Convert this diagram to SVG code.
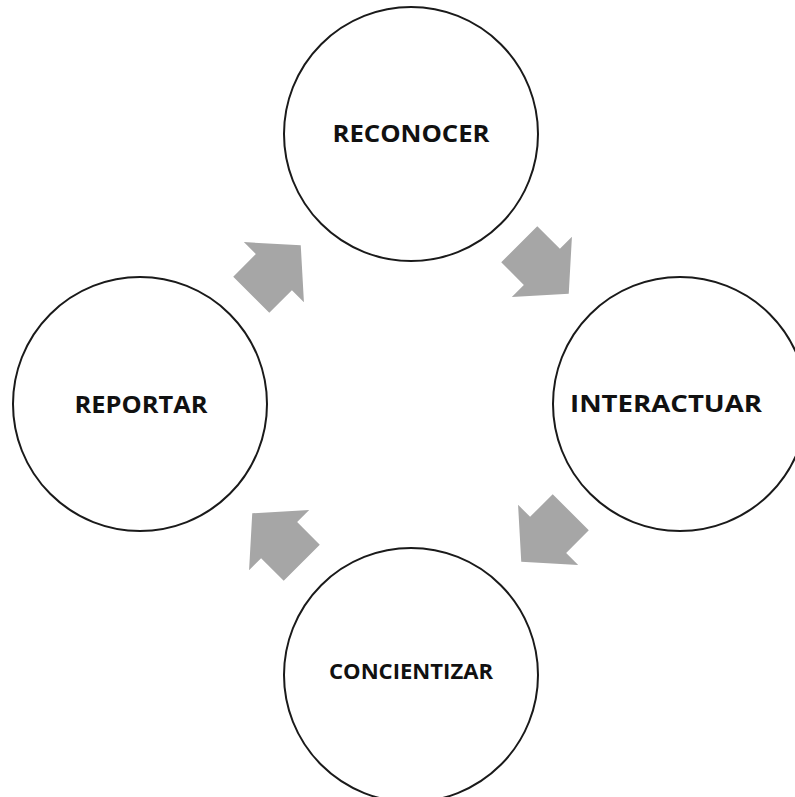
<svg xmlns="http://www.w3.org/2000/svg" width="795" height="797" viewBox="0 0 795 797">
<style>
.node circle{fill:#ffffff;stroke:#1a1a1a;stroke-width:2}
.node text{font-family:"Open Sans","Liberation Sans",sans-serif;font-weight:bold;fill:#111;text-anchor:middle}
.arrow{fill:#a6a6a6}
</style>
<defs>
<polygon id="blk" class="arrow" points="-35,-25.5 -3,-25.5 -3,-42.5 35,0 -3,42.5 -3,25.5 -35,25.5"/>
</defs>
<rect width="795" height="797" fill="#ffffff"/>
<g id="connectors">
<use href="#blk" transform="translate(276,270) rotate(-45)"/>
<use href="#blk" transform="translate(544,269) rotate(45)"/>
<use href="#blk" transform="translate(546,537) rotate(135)"/>
<use href="#blk" transform="translate(277,538) rotate(225)"/>
</g>
<g id="reconocer" class="node">
<circle cx="411" cy="134" r="127"/>
<text x="411" y="142" font-size="24" textLength="157" lengthAdjust="spacingAndGlyphs">RECONOCER</text>
</g>
<g id="reportar" class="node">
<circle cx="140" cy="404" r="127"/>
<text x="141" y="413" font-size="24" textLength="133" lengthAdjust="spacingAndGlyphs">REPORTAR</text>
</g>
<g id="interactuar" class="node">
<circle cx="680" cy="404" r="127"/>
<text x="666" y="412" font-size="23" textLength="192" lengthAdjust="spacingAndGlyphs">INTERACTUAR</text>
</g>
<g id="concientizar" class="node">
<circle cx="411" cy="675" r="127"/>
<text x="411" y="679" font-size="21" textLength="164" lengthAdjust="spacingAndGlyphs">CONCIENTIZAR</text>
</g>
</svg>
